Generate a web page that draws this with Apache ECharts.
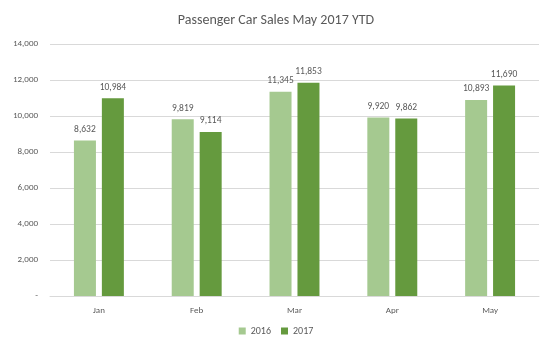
<!DOCTYPE html>
<html>
<head>
<meta charset="utf-8">
<script src="https://cdn.jsdelivr.net/npm/echarts@6/dist/echarts.min.js"></script>
<style>
  html, body { margin: 0; padding: 0; background: #fff; }
  #chart { width: 552px; height: 350px; }
</style>
</head>
<body>
<div id="chart"></div>
<script>
// Monthly passenger car sales, Jan–May
const months = ['Jan', 'Feb', 'Mar', 'Apr', 'May'];
const sales2016 = [8632, 9819, 11345, 9920, 10893];
const sales2017 = [10984, 9114, 11853, 9862, 11690];
const seriesNames = ['2016', '2017'];

const textColor = '#595959';
const font = 'Carlito, "Open Sans", "Liberation Sans", sans-serif';

const chart = echarts.init(document.getElementById('chart'), null, { renderer: 'canvas' });

const labelFmt = p => p.value.toLocaleString('en-US');

chart.setOption({
  animation: false,
  backgroundColor: '#fff',
  title: {
    text: 'Passenger Car Sales May 2017 YTD',
    left: 'center',
    top: 8,
    textStyle: { color: textColor, fontSize: 14, fontWeight: 'normal', fontFamily: font }
  },
  legend: {
    bottom: 9,
    left: 'center',
    itemWidth: 7,
    itemHeight: 7,
    itemGap: 10,
    icon: 'rect',
    textStyle: { color: textColor, fontSize: 10, fontFamily: font },
    data: seriesNames
  },
  grid: { left: 50, right: 13, top: 44, bottom: 54 },
  xAxis: {
    type: 'category',
    data: months,
    axisLine: { lineStyle: { color: '#d9d9d9' } },
    axisTick: { show: false },
    axisLabel: { color: textColor, fontSize: 9, fontFamily: font, margin: 10 }
  },
  yAxis: {
    type: 'value',
    min: 0,
    max: 14000,
    interval: 2000,
    axisLine: { show: false },
    axisTick: { show: false },
    splitLine: { lineStyle: { color: '#d9d9d9' } },
    axisLabel: {
      color: textColor, fontSize: 9, fontFamily: font, margin: 12,
      formatter: v => v === 0 ? '-' : v.toLocaleString('en-US')
    }
  },
  series: [
    {
      name: seriesNames[0],
      type: 'bar',
      data: sales2016,
      barWidth: 22,
      barGap: '27%',
      itemStyle: { color: '#a5c990' },
      label: { show: true, position: 'top', distance: 6, color: textColor, fontSize: 9.5, fontFamily: font, formatter: labelFmt }
    },
    {
      name: seriesNames[1],
      type: 'bar',
      data: sales2017,
      barWidth: 22,
      itemStyle: { color: '#659a3e' },
      label: { show: true, position: 'top', distance: 6, color: textColor, fontSize: 9.5, fontFamily: font, formatter: labelFmt }
    }
  ]
});
</script>
</body>
</html>
